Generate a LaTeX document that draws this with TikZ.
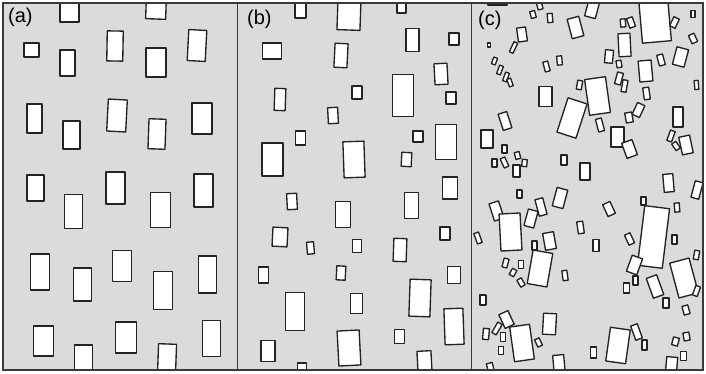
\documentclass[tikz,border=0pt]{standalone}
\usepackage{fontspec}
\setmainfont{Liberation Sans}
\definecolor{panelgray}{RGB}{219,219,221}
\definecolor{inkline}{RGB}{35,35,35}
\tikzset{
  bldgstyle/.style={draw=inkline, fill=white, line width=1.35pt, line join=round},
  framestyle/.style={draw=inkline!90, line width=1.2pt},
  panellabel/.style={anchor=north west, inner sep=0pt, font=\fontsize{20}{24}\selectfont}
}
\newcommand\bldg[5]{\draw[bldgstyle, shift={(#1,#2)}, rotate=#5] ({-#3/2},{-#4/2}) rectangle ({#3/2},{#4/2});}
\begin{document}
\begin{tikzpicture}[x=1pt,y=-1pt]
\useasboundingbox (0,0) rectangle (706,374);
\fill[panelgray] (3,3) rectangle (703,370);
\begin{scope}
\clip (3,3) rectangle (703,370);
% ---- panel (a)
\bldg{69.5}{8}{19}{28}{0}
\bldg{156}{8}{20}{22}{-2}
\bldg{31.5}{50}{15}{14}{0}
\bldg{67.5}{63}{15}{26}{0}
\bldg{115}{46}{16}{30}{-1}
\bldg{156}{62.5}{20}{29}{0}
\bldg{197}{45.5}{18}{31}{-3}
\bldg{34.5}{118.5}{15}{29}{0}
\bldg{71.5}{135}{17}{28}{0}
\bldg{117}{115.5}{19}{32}{-3}
\bldg{157}{134}{17}{30}{-2}
\bldg{202}{118.5}{20}{31}{0}
\bldg{35.5}{188}{17}{26}{0}
\bldg{115.5}{188}{19}{32}{0}
\bldg{203.5}{190.5}{19}{33}{0}
\bldg{73.5}{211.5}{18}{34}{0}
\bldg{160.5}{210}{20}{35}{0}
\bldg{40}{272}{19}{36}{0}
\bldg{82.5}{284.5}{18}{33}{0}
\bldg{122}{266}{19}{31}{0}
\bldg{163}{290.5}{19}{38}{0}
\bldg{207.5}{274.5}{18}{37}{0}
\bldg{43.5}{341}{20}{30}{0}
\bldg{83.5}{360}{18}{30}{0}
\bldg{126}{337.5}{21}{31}{0}
\bldg{167}{360}{18}{32}{-2}
\bldg{211.5}{338.5}{18}{36}{0}
% ---- panel (b)
\bldg{300.5}{8}{11}{20}{0}
\bldg{349}{14}{23}{32}{-2}
\bldg{401.5}{6}{9}{14}{0}
\bldg{272}{51}{19}{16}{0}
\bldg{341}{55.5}{13}{24}{-3}
\bldg{412.5}{40}{13}{23}{0}
\bldg{454}{39}{10}{12}{0}
\bldg{280}{99.5}{11}{22}{-2}
\bldg{357}{92.5}{10}{13}{0}
\bldg{403}{95.5}{21}{42}{0}
\bldg{441}{74}{13}{21}{3}
\bldg{451}{98}{10}{12}{0}
\bldg{333}{115.5}{10}{16}{3}
\bldg{300.5}{138}{10}{14}{0}
\bldg{272.5}{159.5}{21}{33}{0}
\bldg{354}{159.5}{21}{36}{2}
\bldg{418}{136.5}{10}{11}{0}
\bldg{406.5}{159.5}{10}{14}{-3}
\bldg{446}{142}{21}{35}{0}
\bldg{450}{188}{15}{22}{0}
\bldg{292}{201.5}{10}{16}{3}
\bldg{343}{214.5}{15}{26}{0}
\bldg{411.5}{205.5}{14}{26}{0}
\bldg{280}{237}{15}{19}{-3}
\bldg{310.5}{248}{7}{12}{5}
\bldg{357}{246}{9}{13}{0}
\bldg{400}{250}{13}{23}{-2}
\bldg{445}{233.5}{10}{13}{0}
\bldg{263.5}{275}{10}{16}{0}
\bldg{341}{273}{9}{14}{-3}
\bldg{454}{275}{13}{17}{0}
\bldg{295}{311.5}{19}{38}{0}
\bldg{356.5}{303.5}{12}{20}{0}
\bldg{420}{298}{21}{37}{-2}
\bldg{454}{326.5}{19}{36}{2}
\bldg{268}{351}{14}{21}{0}
\bldg{302}{368}{9}{10}{0}
\bldg{349}{348}{22}{35}{3}
\bldg{399.5}{336.5}{10}{14}{0}
\bldg{424.5}{362}{14}{22}{3}
% ---- panel (c)
\bldg{497.5}{0}{19}{10}{0}
\bldg{539.5}{5}{5}{9}{15}
\bldg{533}{14.5}{5}{7}{15}
\bldg{550}{18}{5}{9}{5}
\bldg{592}{9.5}{11}{16}{-15}
\bldg{575.5}{27.5}{12}{20}{15}
\bldg{522}{34.5}{9}{14}{8}
\bldg{489}{45}{3}{4}{0}
\bldg{513.5}{47.5}{4}{11}{-25}
\bldg{623}{23}{5}{8}{5}
\bldg{631}{22.5}{6}{10}{20}
\bldg{655}{20}{29}{44}{5}
\bldg{674.5}{22.5}{6}{10}{-25}
\bldg{693}{14}{4}{7}{0}
\bldg{624.5}{45}{12}{23}{3}
\bldg{693}{38.5}{6}{9}{25}
\bldg{609}{56.5}{8}{13}{-5}
\bldg{619}{64}{5}{7}{10}
\bldg{680.5}{57}{12}{18}{-15}
\bldg{559.5}{60.5}{5}{9}{5}
\bldg{546.5}{66.5}{5}{10}{15}
\bldg{494.5}{61}{4}{7}{-20}
\bldg{500}{70}{4}{9}{-20}
\bldg{506}{77}{4}{9}{-20}
\bldg{510}{82.5}{4}{8}{20}
\bldg{645.5}{71}{13}{21}{5}
\bldg{661}{60}{6}{11}{15}
\bldg{619}{78.5}{6}{12}{-15}
\bldg{624.5}{86}{5}{12}{-10}
\bldg{579.5}{85}{5}{9}{-10}
\bldg{597.5}{96}{21}{36}{8}
\bldg{572}{118}{20}{36}{-18}
\bldg{545.5}{96.5}{13}{20}{0}
\bldg{696.5}{85}{4}{9}{5}
\bldg{646.5}{93.5}{6}{12}{8}
\bldg{638.5}{110}{8}{13}{-25}
\bldg{629}{117.5}{7}{10}{10}
\bldg{678}{117}{10}{20}{0}
\bldg{505}{121}{9}{17}{18}
\bldg{600}{125}{6}{13}{15}
\bldg{487}{139}{12}{18}{0}
\bldg{617.5}{137}{13}{20}{0}
\bldg{629.5}{149}{11}{16}{20}
\bldg{671}{136}{5}{11}{-20}
\bldg{676}{146}{5}{8}{35}
\bldg{686}{145}{11}{18}{12}
\bldg{504.5}{149}{5}{8}{0}
\bldg{494.5}{163}{5}{8}{0}
\bldg{504.5}{162.5}{5}{10}{25}
\bldg{517.5}{155.5}{5}{7}{15}
\bldg{524.5}{163}{5}{7}{-5}
\bldg{516.5}{171}{7}{12}{0}
\bldg{564}{160}{6}{10}{0}
\bldg{585}{171.5}{10}{17}{0}
\bldg{668.5}{183}{10}{18}{5}
\bldg{697}{190}{8}{17}{-15}
\bldg{519.5}{194}{5}{8}{0}
\bldg{560}{198}{11}{19}{-15}
\bldg{496.5}{211}{10}{18}{18}
\bldg{510.5}{232}{21}{37}{3}
\bldg{531}{218.5}{10}{17}{-15}
\bldg{541}{207}{8}{17}{15}
\bldg{478}{238}{5}{11}{20}
\bldg{534.5}{245.5}{5}{9}{0}
\bldg{549.5}{241}{11}{17}{10}
\bldg{540}{268.5}{20}{34}{-10}
\bldg{505.5}{263}{5}{9}{-15}
\bldg{521}{264.5}{5}{8}{0}
\bldg{513}{272.5}{5}{7}{-30}
\bldg{521}{282.5}{5}{8}{30}
\bldg{565}{275.5}{5}{10}{8}
\bldg{580.5}{227.5}{6}{12}{8}
\bldg{596}{245.5}{6}{12}{0}
\bldg{609}{209}{8}{13}{25}
\bldg{643.5}{201}{5}{8}{0}
\bldg{677}{207.5}{5}{9}{5}
\bldg{653.5}{237}{25}{60}{-7}
\bldg{629.5}{239}{6}{11}{25}
\bldg{674.5}{239.5}{5}{9}{0}
\bldg{634.5}{265}{11}{17}{-20}
\bldg{635.5}{280.5}{5}{9}{0}
\bldg{626.5}{288}{6}{10}{0}
\bldg{655}{286.5}{11}{21}{20}
\bldg{684}{278}{20}{36}{15}
\bldg{696.5}{255}{5}{9}{-10}
\bldg{696.5}{291}{5}{10}{-20}
\bldg{666}{303}{6}{10}{0}
\bldg{686}{310}{6}{9}{15}
\bldg{483}{300}{6}{10}{0}
\bldg{506.5}{319.5}{10}{15}{25}
\bldg{497}{328.5}{5}{12}{-30}
\bldg{486}{334}{6}{11}{-5}
\bldg{503}{337}{5}{9}{0}
\bldg{522}{343}{20}{35}{8}
\bldg{501}{350.5}{5}{8}{0}
\bldg{538.5}{342.5}{5}{8}{25}
\bldg{549.5}{324}{13}{21}{-3}
\bldg{618}{345.5}{20}{34}{-8}
\bldg{636.5}{332}{7}{15}{20}
\bldg{644.5}{345}{5}{10}{0}
\bldg{593.5}{352.5}{6}{11}{0}
\bldg{559}{365}{11}{20}{5}
\bldg{490.5}{368}{6}{10}{15}
\bldg{671.5}{366}{11}{18}{-5}
\bldg{675.5}{341.5}{6}{8}{-15}
\bldg{686.5}{336.5}{6}{8}{10}
\bldg{683.5}{356}{6}{9}{0}
\end{scope}
% frame and dividers
\draw[framestyle] (3,3) rectangle (703,370);
\draw[framestyle] (237.5,3) -- (237.5,370);
\draw[framestyle] (471.5,3) -- (471.5,370);
% labels
\node[panellabel] (la) at (8,8) {(a)};
\node[panellabel] (lb) at (247,10) {(b)};
\node[panellabel] (lc) at (478,11) {(c)};
\end{tikzpicture}
\end{document}
